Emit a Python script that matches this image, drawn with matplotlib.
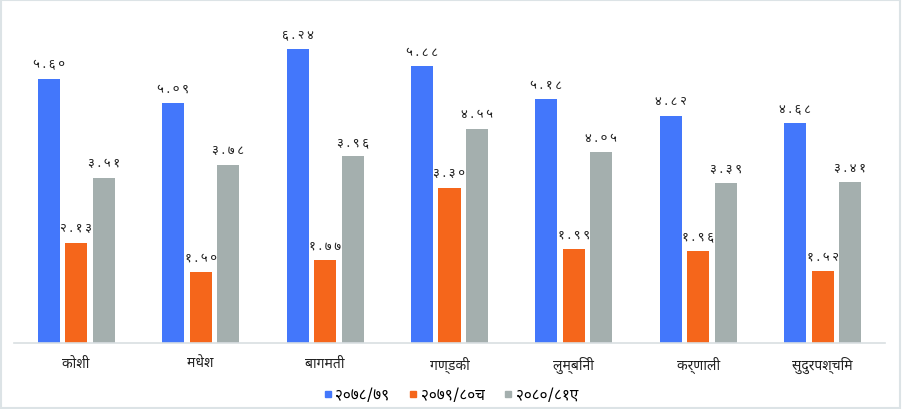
import numpy as np
import matplotlib
matplotlib.use("Agg")
import matplotlib.pyplot as plt
from matplotlib import font_manager, ft2font
from matplotlib.lines import Line2D
from matplotlib.patches import Rectangle

provinces = ["कोशी", "मधेश", "बागमती", "गण्डकी", "लुम्बिनी", "कर्णाली", "सुदुरपश्चिम"]
series_names = ["२०७८/७९", "२०७९/८०च", "२०८०/८१ए"]
vals_7879 = [5.60, 5.09, 6.24, 5.88, 5.18, 4.82, 4.68]
vals_7980 = [2.13, 1.50, 1.77, 3.30, 1.99, 1.96, 1.52]
vals_8081 = [3.51, 3.78, 3.96, 4.55, 4.05, 3.39, 3.41]
colors = ["#4377fb", "#f5661b", "#a4afae"]

DEV_DIGITS = str.maketrans("0123456789", "०१२३४५६७८९")


def find_font(ch):
    # look for an installed font that can draw devanagari
    names = []
    for f in font_manager.fontManager.ttflist:
        try:
            cmap = ft2font.FT2Font(f.fname).get_charmap()
        except Exception:
            continue
        if ord(ch) in cmap:
            names.append(f.name)
    for pref in ["Noto Sans Devanagari", "Noto Sans Devanagari UI", "Lohit Devanagari", "FreeSans"]:
        if pref in names:
            return pref
    return names[0] if names else None


def spaced(s):
    return "\u2009".join(s)


dev_font = find_font("क")
families = [dev_font, "DejaVu Sans"] if dev_font else ["DejaVu Sans"]
plt.rcParams["font.family"] = families

fig = plt.figure(figsize=(9.02, 4.10), dpi=100)
W, H = 902, 410
ax = fig.add_axes([14 / W, (H - 344) / H, (885 - 14) / W, 334 / H])

x = np.arange(len(provinces))
width = 0.177
step = 0.221
all_vals = [vals_7879, vals_7980, vals_8081]
for i, (vals, col) in enumerate(zip(all_vals, colors)):
    pos = x + (i - 1) * step
    ax.bar(pos, vals, width=width, color=col, zorder=2)
    for p, v in zip(pos, vals):
        ax.text(p, v + 0.18, spaced(f"{v:.2f}".translate(DEV_DIGITS)), ha="center", va="bottom",
                fontsize=9.5, color="#222222")

ax.set_xlim(-0.5, len(provinces) - 0.5)
ax.set_ylim(0, 7.09)
ax.set_xticks(x)
ax.set_xticklabels(provinces, fontsize=10, color="#222222")
ax.tick_params(axis="x", length=0, pad=9)
ax.set_yticks([])
for s in ["top", "left", "right"]:
    ax.spines[s].set_visible(False)
ax.spines["bottom"].set_color("#d9dfe2")
ax.spines["bottom"].set_linewidth(1.2)

handles = [Line2D([], [], marker="s", linestyle="none", markersize=5, color=c) for c in colors]
fig.legend(handles, series_names, loc="center", bbox_to_anchor=(0.5, (H - 397) / H),
           ncol=3, frameon=False, fontsize=11, handlelength=0.5, handletextpad=0.25,
           columnspacing=1.3)

fig.patches.append(Rectangle((0.001, 0.002), 0.997, 0.996, transform=fig.transFigure,
                             fill=False, edgecolor="#dce3e6", linewidth=1.5))

fig.savefig("out.png", dpi=100)
